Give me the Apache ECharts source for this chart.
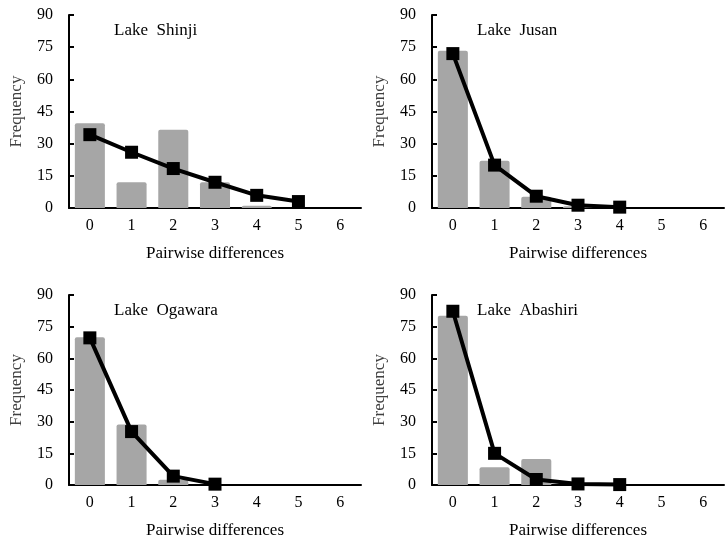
<!DOCTYPE html>
<html>
<head>
<meta charset="utf-8">
<script src="https://cdn.jsdelivr.net/npm/echarts@6/dist/echarts.min.js"></script>
<style>
  html, body { margin: 0; padding: 0; background: #fff; }
  #chart { width: 725px; height: 540px; }
</style>
</head>
<body>
<div id="chart"></div>
<script>
// 数据
var categories = ['0', '1', '2', '3', '4', '5', '6'];
var lakes = ['Lake  Shinji', 'Lake  Jusan', 'Lake  Ogawara', 'Lake  Abashiri'];

var shinjiBars = [39.5, 12, 36.5, 12, 1, 0, 0];
var shinjiLine = [34.2, 26, 18.4, 12, 5.9, 3];
var jusanBars = [73.3, 22, 5.3, 0.8, 0, 0, 0];
var jusanLine = [72, 20, 5.5, 1.3, 0.4];
var ogawaraBars = [70, 28.7, 2.5, 0, 0, 0, 0];
var ogawaraLine = [69.7, 25.3, 4.2, 0.4];
var abashiriBars = [80.2, 8.4, 12.3, 0, 0, 0, 0];
var abashiriLine = [82.3, 15, 2.6, 0.5, 0.2];

var barData = [shinjiBars, jusanBars, ogawaraBars, abashiriBars];
var lineData = [shinjiLine, jusanLine, ogawaraLine, abashiriLine];

var font = 'Liberation Serif';
var grids = [
    { left: 69, top: 15, width: 292, height: 193 },
    { left: 432, top: 15, width: 292, height: 193 },
    { left: 69, top: 295, width: 292, height: 190 },
    { left: 432, top: 295, width: 292, height: 190 }
];

var myChart = echarts.init(document.getElementById('chart'));

var xAxes = [], yAxes = [], series = [], titles = [];
for (var i = 0; i < 4; i++) {
    xAxes.push({
        gridIndex: i,
        type: 'category',
        data: categories,
        boundaryGap: true,
        axisLine: { lineStyle: { color: '#000', width: 2 } },
        axisTick: { inside: true, length: 5, lineStyle: { color: '#000', width: 2 } },
        axisLabel: { color: '#000', fontFamily: font, fontSize: 16, margin: 10 },
        name: 'Pairwise differences',
        nameLocation: 'middle',
        nameGap: 37,
        nameTextStyle: { color: '#000', fontFamily: font, fontSize: 17 }
    });
    yAxes.push({
        gridIndex: i,
        type: 'value',
        min: 0,
        max: 90,
        interval: 15,
        splitLine: { show: false },
        axisLine: { show: true, lineStyle: { color: '#000', width: 2 } },
        axisTick: { show: true, inside: true, length: 5, lineStyle: { color: '#000', width: 2 } },
        axisLabel: { color: '#000', fontFamily: font, fontSize: 16, margin: 16 },
        name: 'Frequency',
        nameLocation: 'middle',
        nameGap: 44,
        nameTextStyle: { color: '#404040', fontFamily: font, fontSize: 17 }
    });
    series.push({
        type: 'bar',
        xAxisIndex: i,
        yAxisIndex: i,
        data: barData[i],
        barWidth: '72%',
        itemStyle: { color: '#a6a6a6', borderRadius: [2, 2, 0, 0] },
        silent: true
    });
    series.push({
        type: 'line',
        xAxisIndex: i,
        yAxisIndex: i,
        data: lineData[i],
        symbol: 'rect',
        symbolSize: 13,
        lineStyle: { color: '#000', width: 4 },
        itemStyle: { color: '#000' },
        z: 5
    });
    titles.push({
        text: lakes[i],
        left: grids[i].left + 40,
        top: grids[i].top + 2,
        textStyle: { color: '#000', fontFamily: font, fontSize: 17, fontWeight: 'normal' }
    });
}

var option = {
    animation: false,
    title: titles,
    grid: grids,
    xAxis: xAxes,
    yAxis: yAxes,
    series: series
};
myChart.setOption(option);
</script>
</body>
</html>
